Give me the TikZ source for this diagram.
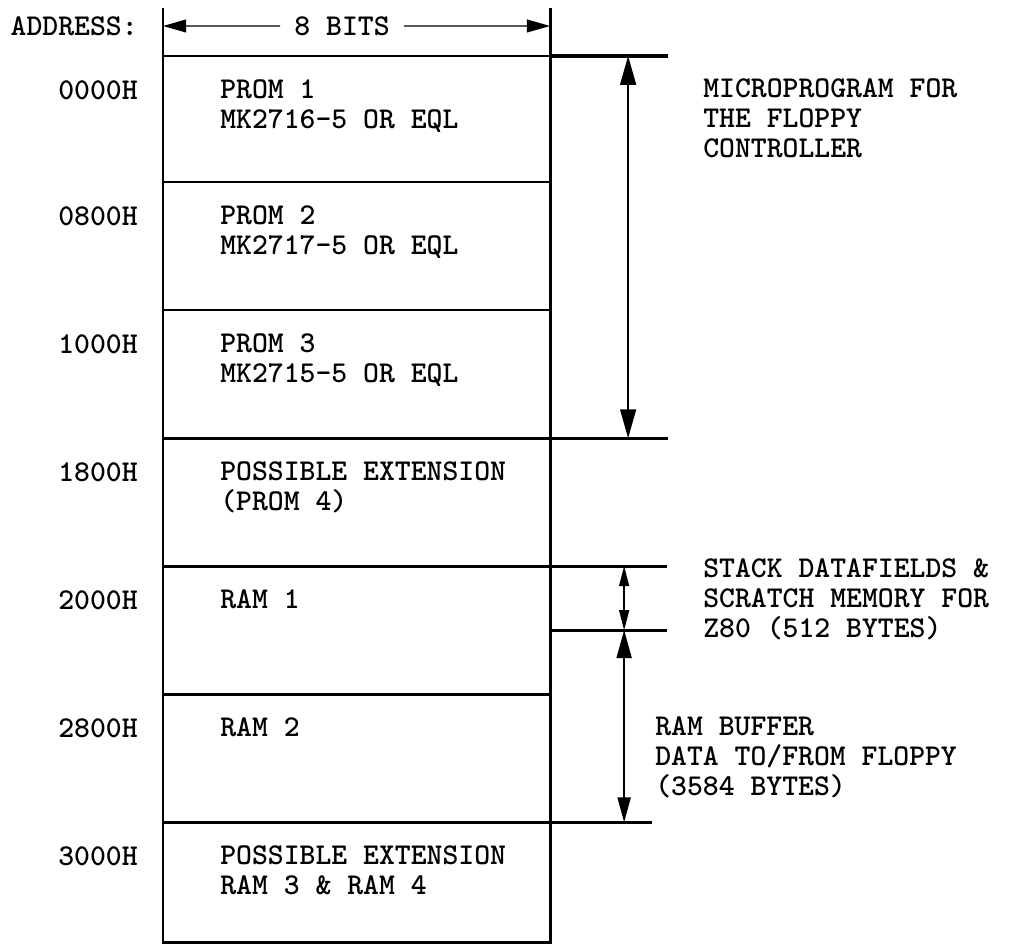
\documentclass[tikz,border=0pt]{standalone}
\usetikzlibrary{positioning,arrows.meta}

\newcommand{\memfont}{\ttfamily\bfseries\fontsize{21.5}{21.3}\selectfont}

\begin{document}
\begin{tikzpicture}[
    x=0.025cm, y=-0.025cm,
    memblock/.style={draw, line width=2pt, outer sep=0pt, inner sep=0pt, minimum width=9.675cm, minimum height=#1},
    memblock/.default=3.2cm,
    memtext/.style={font=\memfont, align=left, inner sep=0pt},
    addrlabel/.style={font=\memfont, inner sep=0pt},
    divline/.style={line width=2.2pt},
    bitsarrow/.style={line width=1pt, -{Triangle[length=0.58cm, width=0.32cm]}},
    dimline/.style={line width=1pt, {Triangle[length=0.72cm, width=0.4cm]}-{Triangle[length=0.72cm, width=0.4cm]}},
    bufline/.style={line width=1pt, {Triangle[length=0.7cm, width=0.38cm]}-{Triangle[length=0.62cm, width=0.33cm]}},
    smalldim/.style={line width=1pt, {Triangle[length=0.5cm, width=0.25cm]}-{Triangle[length=0.5cm, width=0.25cm]}}
]
\useasboundingbox (0,0) rectangle (1010,948);

% --- Memory blocks (stacked) ---
\node[memblock=3.15cm, anchor=north west] (prom1) at (163,56) {};
\node[memblock, below=0pt of prom1] (prom2) {};
\node[memblock, below=0pt of prom2] (prom3) {};
\node[memblock, below=0pt of prom3] (ext1) {};
\node[memblock, below=0pt of ext1] (ram1) {};
\node[memblock, below=0pt of ram1] (ram2) {};
\node[memblock=3cm, below=0pt of ram2] (ext2) {};

% --- Block contents and addresses ---
\foreach \blk/\addr/\txt in {prom1/0000H/{PROM 1\\MK2716-5 OR EQL},
                             prom2/0800H/{PROM 2\\MK2717-5 OR EQL},
                             prom3/1000H/{PROM 3\\MK2715-5 OR EQL},
                             ext1/1800H/{POSSIBLE EXTENSION\\(PROM 4)},
                             ram1/2000H/{RAM 1},
                             ram2/2800H/{RAM 2},
                             ext2/3000H/{POSSIBLE EXTENSION\\RAM 3 \& RAM 4}}{
  \node[memtext, below right=0.58cm and 1.425cm of \blk.north west] (\blk-txt) {\txt};
  \node[addrlabel, below left=0.6cm and 0.625cm of \blk.north west] (\blk-addr) {\addr};
}

% --- Header: address column and width ---
\node[addrlabel, anchor=east] (addrhead) at (138,26) {ADDRESS:};
\coordinate[above=1.2cm of prom1.north west] (tickL);
\coordinate[above=1.2cm of prom1.north east] (tickR);
\draw[line width=2pt] (prom1.north west) -- (tickL);
\draw[line width=2pt] (prom1.north east) -- (tickR);
\coordinate[above=0.75cm of prom1.north west] (bitsL);
\coordinate[above=0.75cm of prom1.north east] (bitsR);
\node[addrlabel, inner xsep=0.35cm] (bitslabel) at (342,26) {8 BITS};
\draw[bitsarrow] (bitslabel.west) -- (bitsL);
\draw[bitsarrow] (bitslabel.east) -- (bitsR);

% --- Divider extensions on the right ---
\coordinate[right=2.95cm of prom1.north east] (topend);
\coordinate[right=2.95cm of ext1.north east] (promend);
\coordinate[right=2.925cm of ram1.north east] (stackend);
\coordinate[right=2.925cm of ram1.east] (bufend);
\coordinate[right=2.55cm of ext2.north east] (ramend);
\draw[divline] (prom1.north east) -- (topend);
\draw[divline] (ext1.north east) -- (promend);
\draw[divline] (ram1.north east) -- (stackend);
\draw[divline] (ram1.east) -- (bufend);
\draw[divline] (ext2.north east) -- (ramend);

% --- Range arrows ---
\coordinate[right=1.95cm of prom1.north east] (mpTop);
\coordinate[right=1.95cm of ext1.north east] (mpBot);
\coordinate[right=1.85cm of ram1.north east] (stTop);
\coordinate[right=1.85cm of ram1.east] (stBot);
\coordinate[right=1.85cm of ext2.north east] (bufBot);
\draw[dimline] (mpTop) -- (mpBot);
\draw[smalldim] (stTop) -- (stBot);
\draw[bufline] (stBot) -- (bufBot);

% --- Side notes ---
\node[memtext, anchor=north west] (microtxt) at (703,78) {MICROPROGRAM FOR\\THE FLOPPY\\CONTROLLER};
\node[memtext, anchor=north west] (stacktxt) at (703,558) {STACK DATAFIELDS \&\\SCRATCH MEMORY FOR\\Z80 (512 BYTES)};
\node[memtext, anchor=north west] (buftxt) at (655,716) {RAM BUFFER\\DATA TO/FROM FLOPPY\\(3584 BYTES)};

\end{tikzpicture}
\end{document}
